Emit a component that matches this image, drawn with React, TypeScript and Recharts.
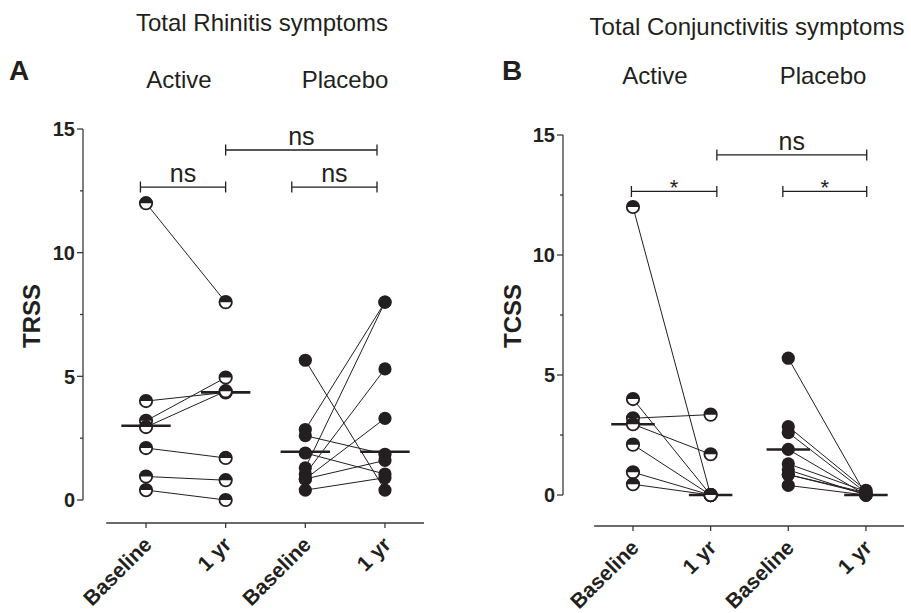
import React from 'react';
import { ComposedChart, Scatter, XAxis, YAxis, ReferenceLine } from 'recharts';

// ---------- data ----------
const categories = ['Baseline', '1 yr', 'Baseline', '1 yr'];
const xTicks = [1, 2, 3, 4];
const yTicks = [0, 2.5, 5, 7.5, 10, 12.5, 15];

// Panel A – Total Rhinitis symptoms (TRSS)
const trssActiveBaseline = [12, 4, 3.2, 2.95, 2.1, 0.95, 0.4];
const trssActive1yr = [8, 4.35, 4.95, 4.4, 1.7, 0.8, 0];
const trssPlaceboBaseline = [5.65, 2.85, 2.6, 1.9, 1.3, 1.05, 0.85, 0.4, 0.85];
const trssPlacebo1yr = [0.4, 8, 1.85, 1.05, 8, 5.3, 3.3, 0.9, 1.6];
const trssMedians = [3, 4.35, 1.95, 1.95];

// Panel B – Total Conjunctivitis symptoms (TCSS)
const tcssActiveBaseline = [12, 4, 3.2, 2.95, 2.1, 0.95, 0.45];
const tcssActive1yr = [0, 0, 3.35, 1.7, 0, 0, 0];
const tcssPlaceboBaseline = [5.7, 2.85, 2.6, 1.9, 1.3, 1.05, 0.85, 0.4, 0.85];
const tcssPlacebo1yr = [0, 0.2, 0.1, 0, 0.15, 0, 0.05, 0, 0.1];
const tcssMedians = [2.95, 0, 1.9, 0];

// significance brackets
const trssBrackets = [
  { from: 0.93, to: 2, level: 12.65, text: 'ns' },
  { from: 2, to: 3.9, level: 14.15, text: 'ns' },
  { from: 2.83, to: 3.9, level: 12.65, text: 'ns' },
];
const tcssBrackets = [
  { from: 0.98, to: 2.08, level: 12.65, text: '*' },
  { from: 2.08, to: 4.01, level: 14.17, text: 'ns' },
  { from: 2.93, to: 4.01, level: 12.65, text: '*' },
];

// ---------- styles ----------
const INK = '#231f20';
const AXIS = '#3a3a3a';
const FONT = '"Liberation Sans", Arial, Helvetica, sans-serif';
const H = 613;

const toPoints = (vals: number[], x: number) => vals.map((v) => ({ x, y: v }));
const toPairs = (a: number[], b: number[], xa: number, xb: number) =>
  a.map((v, i) => [
    { x: xa, y: v },
    { x: xb, y: b[i] },
  ]);

const EmptyShape = () => <g />;

const HalfCircle = (props: any) => {
  const { cx, cy } = props;
  if (cx == null || cy == null) return <g />;
  const r = 6.2;
  return (
    <g>
      <circle cx={cx} cy={cy} r={r} fill="#fff" stroke={INK} strokeWidth={1.8} />
      <path d={`M ${cx - r} ${cy} A ${r} ${r} 0 0 1 ${cx + r} ${cy} Z`} fill={INK} />
    </g>
  );
};

const FullCircle = (props: any) => {
  const { cx, cy } = props;
  if (cx == null || cy == null) return <g />;
  return <circle cx={cx} cy={cy} r={6.6} fill={INK} />;
};

const makeYTick = (axisX: number) => (props: any) => {
  const { y, payload } = props;
  const v = payload.value;
  const major = Math.abs(v % 5) < 1e-6;
  return (
    <g>
      <line x1={axisX - (major ? 6 : 3)} x2={axisX} y1={y} y2={y} stroke={AXIS} strokeWidth={1.3} />
      {major && (
        <text
          x={axisX - 8}
          y={y}
          dy="0.36em"
          textAnchor="end"
          fontFamily={FONT}
          fontWeight="bold"
          fontSize={20}
          fill={INK}
        >
          {v}
        </text>
      )}
    </g>
  );
};

const makeXTick = (axisY: number) => (props: any) => {
  const { x, index } = props;
  const label = categories[index];
  const tx = x + 7;
  const ty = axisY + 23;
  return (
    <g>
      <line x1={x} x2={x} y1={axisY} y2={axisY + 5} stroke={AXIS} strokeWidth={1.3} />
      <text
        x={tx}
        y={ty}
        transform={`rotate(-45 ${tx} ${ty})`}
        textAnchor="end"
        fontFamily={FONT}
        fontWeight="bold"
        fontSize={21}
        fill={INK}
      >
        {label}
      </text>
    </g>
  );
};

const makeBracket = (text: string) => (props: any) => {
  const { x1, y1, x2 } = props;
  const t = 5.5;
  const isStar = text === '*';
  return (
    <g>
      <path
        d={`M ${x1} ${y1 - t} V ${y1 + t} M ${x1} ${y1} H ${x2} M ${x2} ${y1 - t} V ${y1 + t}`}
        stroke={INK}
        strokeWidth={1.3}
        fill="none"
      />
      <text
        x={(x1 + x2) / 2}
        y={isStar ? y1 + 4 : y1 - 5}
        textAnchor="middle"
        fontFamily={FONT}
        fontSize={isStar ? 22 : 25}
        fill={INK}
      >
        {text}
      </text>
    </g>
  );
};

type Layout = {
  left: number;
  width: number;
  top: number;
  axisY: number;
  plotRight: number;
  yAxisW: number;
  xDomain: [number, number];
  yDomain: [number, number];
  medianHalf: number;
};

type PanelProps = {
  a0: number[];
  a1: number[];
  p0: number[];
  p1: number[];
  medians: number[];
  brackets: { from: number; to: number; level: number; text: string }[];
  layout: Layout;
};

function Panel({ a0, a1, p0, p1, medians, brackets, layout }: PanelProps) {
  const { left, width, top, axisY, plotRight, yAxisW, xDomain, yDomain, medianHalf } = layout;
  const xAxisH = 60;
  const marginBottom = H - axisY - xAxisH;
  const marginRight = width - plotRight;
  const pairLines = [...toPairs(a0, a1, 1, 2), ...toPairs(p0, p1, 3, 4)];
  return (
    <div style={{ position: 'absolute', left, top: 0, width, height: H }}>
      <ComposedChart
        width={width}
        height={H}
        margin={{ top, right: marginRight, bottom: marginBottom, left: 0 }}
      >
        <XAxis
          type="number"
          dataKey="x"
          domain={xDomain}
          ticks={xTicks}
          interval={0}
          allowDataOverflow
          axisLine={false}
          tickLine={false}
          height={xAxisH}
          tick={makeXTick(axisY)}
        />
        <YAxis
          type="number"
          dataKey="y"
          domain={yDomain}
          ticks={yTicks}
          interval={0}
          allowDataOverflow
          axisLine={false}
          tickLine={false}
          width={yAxisW}
          tick={makeYTick(yAxisW)}
        />
        <ReferenceLine
          segment={[
            { x: xDomain[0], y: 0 },
            { x: xDomain[0], y: 15 },
          ]}
          stroke={AXIS}
          strokeWidth={1.3}
          ifOverflow="visible"
        />
        <ReferenceLine
          segment={[
            { x: 0.5, y: yDomain[0] },
            { x: xDomain[1], y: yDomain[0] },
          ]}
          stroke={AXIS}
          strokeWidth={1.3}
          ifOverflow="visible"
        />
        {pairLines.map((pts, i) => (
          <Scatter
            key={`pair-${i}`}
            data={pts}
            line={{ stroke: INK, strokeWidth: 1 }}
            shape={EmptyShape}
            isAnimationActive={false}
          />
        ))}
        {medians.map((m, i) => (
          <ReferenceLine
            key={`med-${i}`}
            segment={[
              { x: xTicks[i] - medianHalf, y: m },
              { x: xTicks[i] + medianHalf, y: m },
            ]}
            stroke={INK}
            strokeWidth={2.6}
            ifOverflow="visible"
          />
        ))}
        <Scatter data={toPoints(a0, 1)} shape={HalfCircle} isAnimationActive={false} />
        <Scatter data={toPoints(a1, 2)} shape={HalfCircle} isAnimationActive={false} />
        <Scatter data={toPoints(p0, 3)} shape={FullCircle} isAnimationActive={false} />
        <Scatter data={toPoints(p1, 4)} shape={FullCircle} isAnimationActive={false} />
        {brackets.map((b, i) => (
          <ReferenceLine
            key={`br-${i}`}
            segment={[
              { x: b.from, y: b.level },
              { x: b.to, y: b.level },
            ]}
            ifOverflow="visible"
            shape={makeBracket(b.text)}
          />
        ))}
      </ComposedChart>
    </div>
  );
}

const layoutA: Layout = {
  left: 0,
  width: 455,
  top: 129,
  axisY: 523,
  plotRight: 424,
  yAxisW: 83,
  xDomain: [0.209, 4.49],
  yDomain: [-0.93, 15],
  medianHalf: 0.31,
};

const layoutB: Layout = {
  left: 455,
  width: 456,
  top: 135,
  axisY: 526,
  plotRight: 449,
  yAxisW: 108,
  xDomain: [0.099, 4.49],
  yDomain: [-1.29, 15],
  medianHalf: 0.28,
};

export default function App() {
  const txt = { fontFamily: FONT, fill: INK } as const;
  return (
    <div style={{ position: 'absolute', left: 0, top: 0, width: 911, height: H, background: '#fff' }}>
      <Panel
        a0={trssActiveBaseline}
        a1={trssActive1yr}
        p0={trssPlaceboBaseline}
        p1={trssPlacebo1yr}
        medians={trssMedians}
        brackets={trssBrackets}
        layout={layoutA}
      />
      <Panel
        a0={tcssActiveBaseline}
        a1={tcssActive1yr}
        p0={tcssPlaceboBaseline}
        p1={tcssPlacebo1yr}
        medians={tcssMedians}
        brackets={tcssBrackets}
        layout={layoutB}
      />
      <svg
        width={911}
        height={H}
        style={{ position: 'absolute', left: 0, top: 0, pointerEvents: 'none' }}
      >
        <text x={262} y={31} textAnchor="middle" fontSize={24} {...txt}>
          Total Rhinitis symptoms
        </text>
        <text x={747} y={35} textAnchor="middle" fontSize={24} {...txt}>
          Total Conjunctivitis symptoms
        </text>
        <text x={9} y={80} fontSize={28} fontWeight="bold" {...txt}>
          A
        </text>
        <text x={502} y={80} fontSize={28} fontWeight="bold" {...txt}>
          B
        </text>
        <text x={179} y={88} textAnchor="middle" fontSize={24} {...txt}>
          Active
        </text>
        <text x={345} y={88} textAnchor="middle" fontSize={24} {...txt}>
          Placebo
        </text>
        <text x={655} y={84} textAnchor="middle" fontSize={24} {...txt}>
          Active
        </text>
        <text x={823} y={84} textAnchor="middle" fontSize={24} {...txt}>
          Placebo
        </text>
        <text
          x={40}
          y={316}
          textAnchor="middle"
          fontSize={24}
          fontWeight="bold"
          transform="rotate(-90 40 316)"
          {...txt}
        >
          TRSS
        </text>
        <text
          x={521}
          y={316}
          textAnchor="middle"
          fontSize={24}
          fontWeight="bold"
          transform="rotate(-90 521 316)"
          {...txt}
        >
          TCSS
        </text>
      </svg>
    </div>
  );
}
